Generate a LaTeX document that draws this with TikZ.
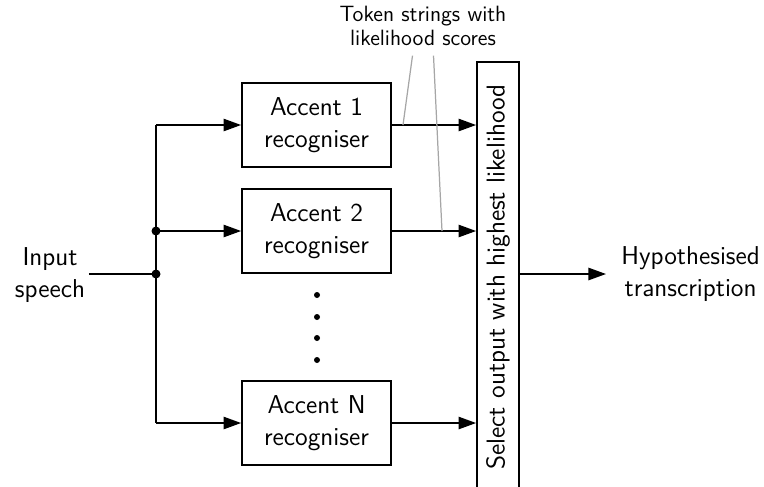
\documentclass[tikz,border=0pt]{standalone}
\usepackage{tikz}
\usepackage{amsmath}
\usetikzlibrary{arrows.meta}

\begin{document}
\begin{tikzpicture}[
		txt/.style={font=\sffamily\fontsize{14.7}{18}\selectfont, align=center},
		recog/.style={txt, draw, rectangle, line width=1pt, minimum width=2.98cm, minimum height=1.68cm},
		arr/.style={line width=1pt, -{Triangle[length=10pt, width=7pt]}},
		wire/.style={line width=1pt},
		tok/.style={gray!70, line width=0.7pt}
	]
				\clip (0,0) rectangle (15.28,-9.72);
				\node[txt, inner sep=2pt] (IN)at(1.0, -5.5) {Input\\speech};
				\node[recog] (A1)at(6.33, -2.5) {Accent 1\\recogniser};
				\node[recog] (A2)at(6.33, -4.62) {Accent 2\\recogniser};
				\node[recog] (AN)at(6.33, -8.46) {Accent N\\recogniser};
				\node[txt, draw, line width=1pt, rotate=90, minimum width=8.6cm, minimum height=0.84cm] (SEL)at(9.96, -5.54) {Select output with highest likelihood};
				\node[txt, font=\sffamily\fontsize{12.6}{13.2}\selectfont] (TOK)at(8.46, -0.52) {Token strings with\\likelihood scores};
				\node[txt, anchor=west, inner sep=0pt] (OUT)at(12.42, -5.48) {Hypothesised\\transcription};
				\coordinate (J0) at (3.12, -5.48);
				\coordinate (J2) at (3.12, -4.62);
				\coordinate (M1) at (8.06, -2.5);
				\coordinate (M2) at (8.84, -4.62);
				% input and bus
				\draw[wire] (IN.east |- J0) -- (J0);
				\draw[wire] (A1.west -| J0) -- (AN.west -| J0);
				\fill (J0) circle (0.09);
				\fill (J2) circle (0.09);
				\draw[arr] (A1.west -| J0) -- (A1.west);
				\draw[arr] (J2) -- (A2.west);
				\draw[arr] (AN.west -| J0) -- (AN.west);
				% outputs to selector
				\draw[arr] (A1.east) -- (A1.east -| SEL.north);
				\draw[arr] (A2.east) -- (A2.east -| SEL.north);
				\draw[arr] (AN.east) -- (AN.east -| SEL.north);
				\draw[arr] (SEL.south |- J0) -- ([xshift=-0.3cm]OUT.west);
				\draw[tok] ([xshift=-0.21cm, yshift=-0.08cm]TOK.south) -- (M1);
				\draw[tok] ([xshift=0.21cm, yshift=-0.08cm]TOK.south) -- (M2);
				\foreach \y in {-5.9, -6.34, -6.76, -7.2}
					\fill (6.34, \y) circle (0.06);
			\end{tikzpicture}
\end{document}
